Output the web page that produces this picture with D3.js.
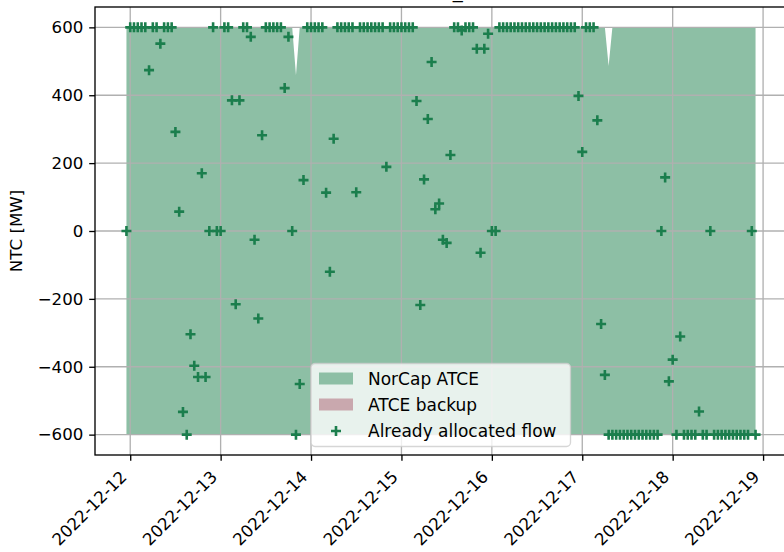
<!DOCTYPE html>
<html>
<head>
<meta charset="utf-8">
<script src="https://cdn.jsdelivr.net/npm/d3@7"></script>
<style>
  body { margin: 0; background: #fff; }
  svg text { font-family: "DejaVu Sans", sans-serif; }
</style>
</head>
<body>
<div class="ntc-chart"></div>
<script>

/** hourly series, first hour is 2022-12-11 23:00 */
const startHour = Date.UTC(2022, 11, 11, 23);

const allocatedFlow = [
  0,600,600,600,600,600,474,600,600,552,600,600,600,292,57,-533,-600,-304,-397,-430,170,-430,0,600,
  0,0,600,600,385,-216,385,600,600,572,-26,-258,282,600,600,600,600,600,421,572,0,-600,-451,150,
  600,600,600,600,600,113,-120,272,600,600,600,600,600,114,600,600,600,600,600,600,600,189,600,600,
  600,600,600,600,600,383,-218,152,330,498,64,81,-26,-35,224,600,600,591,600,600,600,537,-64,537,
  581,0,0,600,600,600,600,600,600,600,600,600,600,600,600,600,600,600,600,600,600,600,600,600,
  398,233,600,600,600,326,-274,-424,-600,-600,-600,-600,-600,-600,-600,-600,-600,-600,-600,-600,-600,-600,0,158,
  -443,-379,-600,-311,-600,-600,-600,-600,-532,-600,-600,0,-600,-600,-600,-600,-600,-600,-600,-600,-600,-600,0,-600
];

const atceMax = [
  600,600,600,600,600,600,600,600,600,600,600,600,600,600,600,600,600,600,600,600,600,600,600,600,
  600,600,600,600,600,600,600,600,600,600,600,600,600,600,600,600,600,600,600,600,600,459,600,600,
  600,600,600,600,600,600,600,600,600,600,600,600,600,600,600,600,600,600,600,600,600,600,600,600,
  600,600,600,600,600,600,600,600,600,600,600,600,600,600,600,600,600,600,600,600,600,600,600,600,
  600,600,600,600,600,600,600,600,600,600,600,600,600,600,600,600,600,600,600,600,600,600,600,600,
  600,600,600,600,600,600,600,600,486,600,600,600,600,600,600,600,600,600,600,600,600,600,600,600,
  600,600,600,600,600,600,600,600,600,600,600,600,600,600,600,600,600,600,600,600,600,600,600,600
];

const atceMin = [
  -600,-600,-600,-600,-600,-600,-600,-600,-600,-600,-600,-600,-600,-600,-600,-600,-600,-600,-600,-600,-600,-600,-600,-600,
  -600,-600,-600,-600,-600,-600,-600,-600,-600,-600,-600,-600,-600,-600,-600,-600,-600,-600,-600,-600,-600,-600,-600,-600,
  -600,-600,-600,-600,-600,-600,-600,-600,-600,-600,-600,-600,-600,-600,-600,-600,-600,-600,-600,-600,-600,-600,-600,-600,
  -600,-600,-600,-600,-600,-600,-600,-600,-600,-600,-600,-600,-600,-600,-600,-600,-600,-600,-600,-600,-600,-600,-600,-600,
  -600,-600,-600,-600,-600,-600,-600,-600,-600,-600,-600,-600,-600,-600,-600,-600,-600,-600,-600,-600,-600,-600,-600,-600,
  -600,-600,-600,-600,-600,-600,-600,-600,-600,-600,-600,-600,-600,-600,-600,-600,-600,-600,-600,-600,-600,-600,-600,-600,
  -600,-600,-600,-600,-600,-600,-600,-600,-600,-600,-600,-600,-600,-600,-600,-600,-600,-600,-600,-600,-600,-600,-600,-600
];

const yTicks = [-600, -400, -200, 0, 200, 400, 600];
const xTickDays = ['2022-12-12', '2022-12-13', '2022-12-14', '2022-12-15',
                   '2022-12-16', '2022-12-17', '2022-12-18', '2022-12-19'];
const legendLabels = ['NorCap ATCE', 'ATCE backup', 'Already allocated flow'];

const chartTitle = 'NO2_NL';

/** colours */
const atceColor = '#8dbfa5';
const backupColor = '#c9a8ae';
const flowColor = '#1b7e4d';

/** build rows */
const rows = allocatedFlow.map((v, i) => ({
    time: new Date(startHour + i * 3600e3),
    flow: v,
    hi: atceMax[i],
    lo: atceMin[i]
}));

/** canvas */
const width = 784, height = 552;
const margin = {left: 95, top: 7, right: -3, bottom: 97};
const fs = 16.67;

let svg = d3.select('.ntc-chart').append('svg')
    .attr('width', width)
    .attr('height', height);

/** scales, with matplotlib style 5% margins */
const t0 = rows[0].time, t1 = rows[rows.length - 1].time;
const pad = (t1 - t0) * 0.05;
let x = d3.scaleUtc()
    .domain([new Date(+t0 - pad), new Date(+t1 + pad)])
    .range([margin.left, width - margin.right]);
let y = d3.scaleLinear()
    .domain([-660, 660])
    .range([height - margin.bottom, margin.top]);

const x0 = x.range()[0], x1 = x.range()[1];
const y0 = y.range()[0], y1 = y.range()[1];

/** title (mostly cut off above the figure, as in the source) */
svg.append('text')
    .attr('x', 449)
    .attr('y', -2.5)
    .attr('text-anchor', 'middle')
    .style('font-size', '20px')
    .text(chartTitle);

/** ATCE area */
let area = d3.area()
    .x(d => x(d.time))
    .y0(d => y(d.lo))
    .y1(d => y(d.hi));

svg.append('path')
    .datum(rows)
    .attr('d', area)
    .attr('fill', atceColor);

/** grid */
const dayTicks = xTickDays.map(s => new Date(s + 'T00:00:00Z'));
svg.append('g')
    .selectAll('line')
    .data(dayTicks)
    .enter()
    .append('line')
    .attr('x1', d => x(d)).attr('x2', d => x(d))
    .attr('y1', y1).attr('y2', y0)
    .attr('stroke', '#b0b0b0')
    .attr('stroke-width', 1.33);
svg.append('g')
    .selectAll('line')
    .data(yTicks)
    .enter()
    .append('line')
    .attr('x1', x0).attr('x2', x1)
    .attr('y1', d => y(d)).attr('y2', d => y(d))
    .attr('stroke', '#b0b0b0')
    .attr('stroke-width', 1.33);

/** allocated flow markers */
const plus = 'M-5,0H5M0,-5V5';
svg.append('g')
    .selectAll('path')
    .data(rows)
    .enter()
    .append('path')
    .attr('transform', d => `translate(${x(d.time)},${y(d.flow)})`)
    .attr('d', plus)
    .attr('stroke', flowColor)
    .attr('stroke-width', 2.6)
    .attr('fill', 'none');

/** axes */
let yAxis = d3.axisLeft(y)
    .tickValues(yTicks)
    .tickSize(5.8)
    .tickPadding(5.8)
    .tickFormat(d3.format('d'));
let gy = svg.append('g')
    .attr('transform', `translate(${x0},0)`)
    .call(yAxis);
gy.select('.domain').remove();
gy.selectAll('line').attr('stroke-width', 1.33);
gy.selectAll('text')
    .style('font-size', fs + 'px')
    .attr('fill', '#000')
    .text(d => d3.format('d')(d).replace('-', '\u2212'));

let xAxis = d3.axisBottom(x)
    .tickValues(dayTicks)
    .tickSize(5.8)
    .tickFormat(d3.utcFormat('%Y-%m-%d'));
let gx = svg.append('g')
    .attr('transform', `translate(0,${y0})`)
    .call(xAxis);
gx.select('.domain').remove();
gx.selectAll('line').attr('stroke-width', 1.33);
gx.selectAll('text')
    .style('font-size', fs + 'px')
    .attr('fill', '#000')
    .attr('text-anchor', 'end')
    .attr('dy', null)
    .attr('y', 0)
    .attr('transform', 'translate(-3,23) rotate(-45)');

/** spines */
svg.append('rect')
    .attr('x', x0).attr('y', y1)
    .attr('width', x1 - x0).attr('height', y0 - y1)
    .attr('fill', 'none')
    .attr('stroke', '#000')
    .attr('stroke-width', 1.33);

/** y label */
svg.append('text')
    .attr('transform', `translate(22,${(y0 + y1) / 2}) rotate(-90)`)
    .attr('text-anchor', 'middle')
    .style('font-size', fs + 'px')
    .text('NTC [MW]');

/** legend */
let legend = svg.append('g')
    .attr('transform', 'translate(311,363.5)');
legend.append('rect')
    .attr('width', 259.5).attr('height', 83)
    .attr('rx', 4)
    .attr('fill', 'rgba(255,255,255,0.8)')
    .attr('stroke', 'rgba(204,204,204,0.8)')
    .attr('stroke-width', 1.33);

const rowY = [15, 41, 67.5];
legend.append('rect')
    .attr('x', 8).attr('y', rowY[0] - 6)
    .attr('width', 34).attr('height', 12)
    .attr('fill', atceColor);
legend.append('rect')
    .attr('x', 8).attr('y', rowY[1] - 6)
    .attr('width', 34).attr('height', 12)
    .attr('fill', backupColor);
legend.append('path')
    .attr('transform', `translate(25,${rowY[2]})`)
    .attr('d', plus)
    .attr('stroke', flowColor)
    .attr('stroke-width', 2.6);

legend.selectAll('.leg-label')
    .data(legendLabels)
    .enter()
    .append('text')
    .attr('class', 'leg-label')
    .attr('x', 57)
    .attr('y', (d, i) => rowY[i] + 6)
    .style('font-size', '17px')
    .text(d => d);

</script>
</body>
</html>
